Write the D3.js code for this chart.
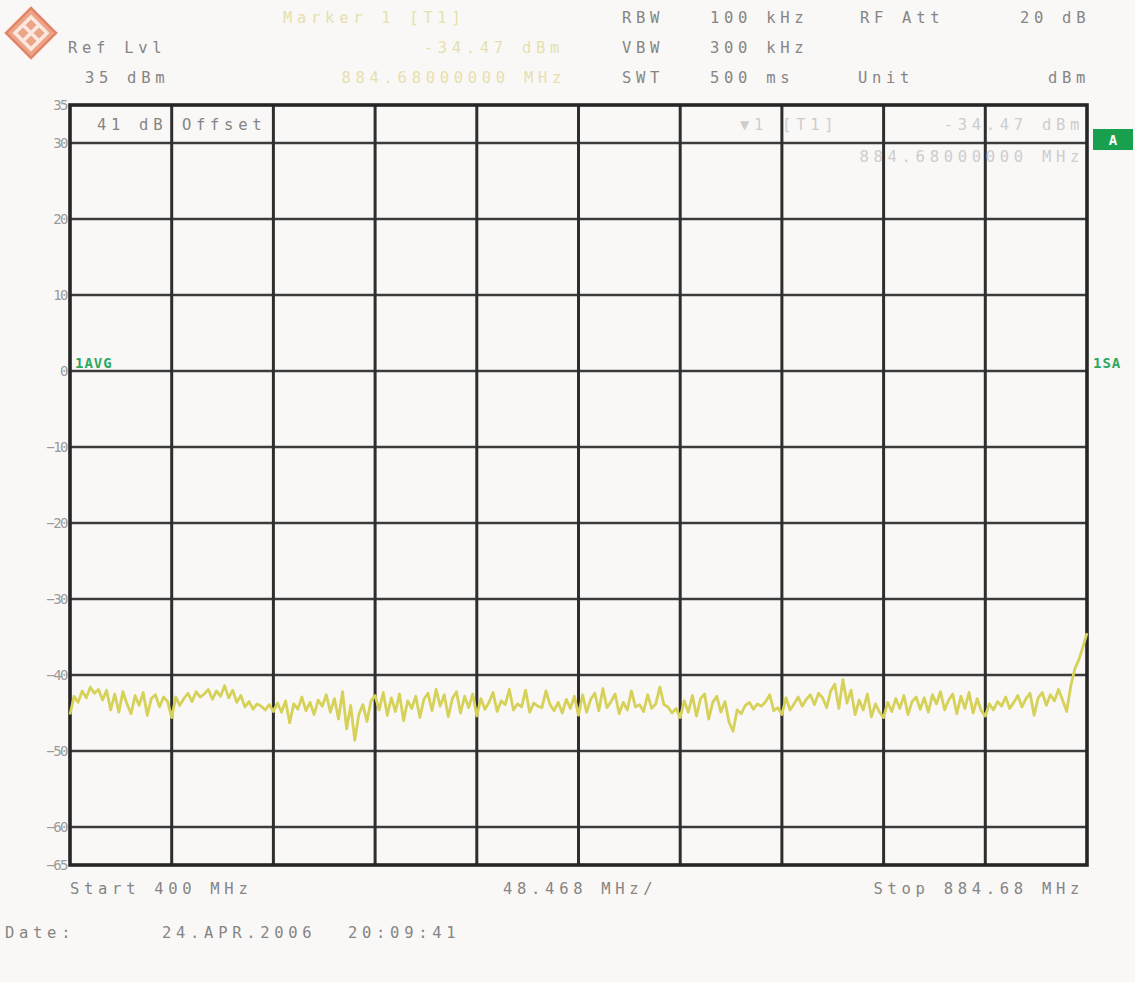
<!DOCTYPE html>
<html><head><meta charset="utf-8">
<script src="https://cdn.jsdelivr.net/npm/d3@7"></script>
<style>
html,body{margin:0;padding:0;background:#faf8f6;}
svg{display:block;}
text{font-family:"DejaVu Sans Mono",monospace;}
</style></head>
<body>
<svg id="chart" width="1135" height="982"></svg>
<script>
// ---- data ----
const startFreq = 400;          // MHz
const stopFreq = 884.68;        // MHz
const freqDivs = 10;
const yTickValues = [30, 20, 10, 0, -10, -20, -30, -40, -50, -60];
const yLabelValues = [35, 30, 20, 10, 0, -10, -20, -30, -40, -50, -60, -65];
const yDomain = [-65, 35];
const traceDbm = [
 -45.2,-42.8,-43.6,-42.1,-43.0,-41.6,-42.4,-41.9,-43.3,-42.0,-44.6,-42.5,-44.9,-42.2,-43.8,-45.1,-42.7,-44.0,-42.3,-45.3,-43.1,-42.6,-44.2,-42.9,-43.5,
 -45.6,-42.9,-44.0,-43.1,-42.4,-43.5,-42.2,-42.9,-42.5,-41.9,-43.2,-42.1,-42.8,-41.4,-43.0,-42.0,-43.6,-42.7,-44.2,-43.5,-44.5,-43.8,-44.1,-44.6,-43.9,
 -44.8,-43.7,-44.9,-43.4,-46.3,-43.8,-44.5,-42.9,-44.7,-43.6,-45.2,-43.3,-44.1,-42.6,-44.9,-43.1,-45.8,-42.2,-47.1,-44.0,-48.6,-45.2,-43.9,-46.1,-43.4,
 -42.7,-44.6,-42.3,-45.3,-43.0,-44.8,-42.5,-46.0,-43.4,-44.4,-42.8,-45.6,-43.2,-42.4,-44.7,-41.9,-44.1,-42.6,-45.5,-43.1,-42.2,-45.0,-42.8,-44.3,-42.5,
 -45.4,-43.1,-44.5,-43.6,-42.3,-44.8,-43.4,-43.9,-41.9,-44.6,-43.8,-44.2,-42.0,-44.9,-43.7,-44.1,-44.3,-42.1,-43.9,-44.7,-43.6,-45.0,-43.2,-44.4,-42.8,
 -45.3,-42.6,-44.9,-43.2,-42.4,-44.7,-41.8,-44.3,-43.5,-42.5,-45.1,-43.6,-44.6,-42.1,-44.2,-43.9,-44.8,-42.6,-44.4,-43.8,-41.6,-43.9,-44.2,-45.0,-44.4,
 -45.6,-43.4,-44.9,-42.7,-45.4,-43.1,-42.5,-45.8,-43.6,-42.8,-44.9,-43.5,-46.2,-47.4,-44.6,-45.1,-44.0,-43.6,-44.5,-43.8,-44.1,-43.5,-42.6,-44.7,-44.3,
 -45.2,-43.0,-44.6,-43.8,-42.9,-44.1,-43.2,-42.6,-43.9,-42.4,-43.0,-44.3,-42.1,-41.2,-44.4,-40.6,-43.7,-42.0,-45.2,-43.3,-44.6,-42.5,-45.5,-43.8,-44.9,
 -45.6,-43.6,-44.8,-43.1,-44.4,-42.7,-45.2,-43.5,-42.9,-44.5,-43.0,-44.9,-42.6,-43.8,-42.2,-44.6,-43.3,-42.5,-45.1,-42.8,-44.4,-42.3,-45.0,-43.1,-44.7,
 -45.4,-43.8,-44.6,-43.5,-44.1,-42.9,-44.4,-43.6,-42.7,-44.2,-43.1,-42.4,-45.3,-43.0,-42.3,-44.0,-42.6,-43.4,-41.9,-43.3,-44.8,-41.5,-39.2,-38.0,-36.3,
 -34.5
];
const headerTexts = [
  {t:"Marker 1 [T1]", x:283, y:23, c:"#e6e0ae", a:"start"},
  {t:"-34.47 dBm", x:564, y:53, c:"#e6e0ae", a:"end"},
  {t:"884.68000000 MHz", x:566, y:83, c:"#e6e0ae", a:"end"},
  {t:"Ref Lvl", x:68, y:53, c:"#858585", a:"start"},
  {t:"35 dBm", x:85, y:83, c:"#858585", a:"start"},
  {t:"RBW", x:622, y:23, c:"#858585", a:"start"},
  {t:"100 kHz", x:710, y:23, c:"#858585", a:"start"},
  {t:"RF Att", x:860, y:23, c:"#858585", a:"start"},
  {t:"20 dB", x:1020, y:23, c:"#858585", a:"start"},
  {t:"VBW", x:622, y:53, c:"#858585", a:"start"},
  {t:"300 kHz", x:710, y:53, c:"#858585", a:"start"},
  {t:"SWT", x:622, y:83, c:"#858585", a:"start"},
  {t:"500 ms", x:710, y:83, c:"#858585", a:"start"},
  {t:"Unit", x:858, y:83, c:"#858585", a:"start"},
  {t:"dBm", x:1090, y:83, c:"#858585", a:"end"},
  {t:"41 dB", x:97, y:130, c:"#858585", a:"start"},
  {t:"Offset", x:182, y:130, c:"#858585", a:"start"},
  {t:"▼1 [T1]", x:740, y:130, c:"#cdcdcd", a:"start"},
  {t:"-34.47 dBm", x:1084, y:130, c:"#cdcdcd", a:"end"},
  {t:"884.68000000 MHz", x:1084, y:162, c:"#cdcdcd", a:"end"},
  {t:"Start 400 MHz", x:70, y:894, c:"#858585", a:"start"},
  {t:"48.468 MHz/", x:503, y:894, c:"#858585", a:"start"},
  {t:"Stop 884.68 MHz", x:1084, y:894, c:"#858585", a:"end"},
  {t:"Date:", x:5, y:938, c:"#858585", a:"start"},
  {t:"24.APR.2006", x:162, y:938, c:"#858585", a:"start"},
  {t:"20:09:41", x:348, y:938, c:"#858585", a:"start"}
];

// ---- layout ----
const svg = d3.select("#chart");
const L = 70, R = 1087, T = 105, B = 865;
const x = d3.scaleLinear().domain([startFreq, stopFreq]).range([L, R]);
const y = d3.scaleLinear().domain(yDomain).range([B, T]);
const step = (stopFreq - startFreq) / freqDivs;
const vTicks = d3.range(1, freqDivs).map(i => startFreq + i * step);
const freqs = traceDbm.map((_, i) => startFreq + i * (stopFreq - startFreq) / (traceDbm.length - 1));

svg.append("rect").attr("width",1135).attr("height",982).attr("fill","#faf8f6");

// logo
const lg = svg.append("g").attr("transform","translate(31,33)");
lg.append("path").attr("d","M0,-25 L25,0 L0,25 L-25,0 Z").attr("fill","#eda487");
lg.append("path").attr("d","M0,-16 L16,0 L0,16 L-16,0 Z").attr("fill","none").attr("stroke","#fbe8e0").attr("stroke-width",3.5);
lg.append("path").attr("d","M-8,-8 L8,8 M8,-8 L-8,8").attr("stroke","#fbe8e0").attr("stroke-width",3.5);
lg.append("path").attr("d","M0,-25 L25,0 L0,25 L-25,0 Z").attr("fill","none").attr("stroke","#e2866a").attr("stroke-width",2.5);

// grid
const grid = svg.append("g");
grid.selectAll("line.h").data(yTickValues).join("line").attr("class","h")
  .attr("x1",L).attr("x2",R).attr("y1",d=>y(d)).attr("y2",d=>y(d))
  .attr("stroke","#3c3c3c").attr("stroke-width",2.6);
grid.selectAll("line.v").data(vTicks).join("line").attr("class","v")
  .attr("y1",T).attr("y2",B).attr("x1",d=>x(d)).attr("x2",d=>x(d))
  .attr("stroke","#2e2e2e").attr("stroke-width",3);
svg.append("rect").attr("x",L).attr("y",T).attr("width",R-L).attr("height",B-T)
  .attr("fill","none").attr("stroke","#262626").attr("stroke-width",3.6);

// y labels via axis
const yAxis = d3.axisLeft(y).tickValues(yLabelValues).tickSize(0).tickPadding(3).tickFormat(d3.format("d"));
const ya = svg.append("g").attr("transform",`translate(${L},0)`).call(yAxis);
ya.select(".domain").remove();
ya.selectAll("text").attr("fill","#9a9a9a").attr("font-size",14).attr("letter-spacing",-1.5)
  .attr("font-family","'DejaVu Sans Mono',monospace");

// trace
const line = d3.line().x((d,i)=>x(freqs[i])).y(d=>y(d));
svg.append("path").datum(traceDbm).attr("d",line).attr("fill","none")
  .attr("stroke","#d6d158").attr("stroke-width",2.8).attr("stroke-linejoin","round");

// texts
svg.append("g").selectAll("text").data(headerTexts).join("text")
  .attr("x",d=>d.x).attr("y",d=>d.y).attr("fill",d=>d.c).attr("text-anchor",d=>d.a)
  .attr("font-size",15.5).attr("letter-spacing",4.7).text(d=>d.t);

// green markers
svg.append("rect").attr("x",1093).attr("y",129).attr("width",40).attr("height",21).attr("fill","#19a04e");
svg.append("text").attr("x",1113).attr("y",145).attr("text-anchor","middle").attr("fill","#ffffff")
  .attr("font-size",14).attr("font-weight","bold").text("A");
svg.append("text").attr("x",75).attr("y",368).attr("fill","#2fa85f").attr("font-size",14)
  .attr("font-weight","bold").attr("letter-spacing",1).text("1AVG");
svg.append("text").attr("x",1093).attr("y",368).attr("fill","#2fa85f").attr("font-size",14)
  .attr("font-weight","bold").attr("letter-spacing",1).text("1SA");
</script>
</body></html>
